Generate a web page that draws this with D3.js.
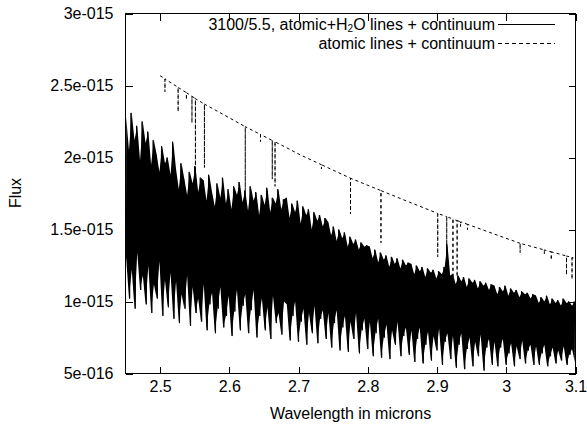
<!DOCTYPE html>
<html><head><meta charset="utf-8">
<script src="https://cdn.jsdelivr.net/npm/d3@7"></script>
<style>body{margin:0;background:#fff}svg{display:block}</style>
</head><body>
<svg id="chart" width="587" height="428"></svg>
<script>
// ---- data (flux in units of 1e-15) ----
const xTicks = [2.5, 2.6, 2.7, 2.8, 2.9, 3.0, 3.1];
const xTickLabels = ["2.5", "2.6", "2.7", "2.8", "2.9", "3", "3.1"];
const yTicks = [0.5, 1.0, 1.5, 2.0, 2.5, 3.0];
const yTickLabels = ["5e-016", "1e-015", "1.5e-015", "2e-015", "2.5e-015", "3e-015"];

// noisy model spectrum (atomic + H2O lines): alternating local maxima / minima on a 0.002 micron grid
const h2oStart = 2.45, h2oStep = 0.002;
const h2oPeaks = [
  2.28,2.05,2.31,2.12,2.22,1.98,2.25,2.10,
  2.18,1.95,2.12,2.02,1.90,2.08,1.96,2.00,1.88,2.11,
  1.92,1.78,1.96,1.85,1.74,1.90,1.82,1.94,1.76,1.86,
  1.84,1.70,1.88,1.76,1.66,1.82,1.72,1.86,1.68,1.78,1.64,1.80,1.74,1.83,1.69,
  1.77,1.63,1.80,1.70,1.76,1.60,1.74,1.67,1.79,1.62,1.72,1.68,1.78,1.64,1.71,
  1.72,1.58,1.68,1.62,1.70,1.54,1.66,1.60,1.64,1.50,1.62,1.56,1.60,1.52,1.58,
  1.55,1.46,1.52,1.42,1.50,1.44,1.48,1.38,1.45,1.40,1.43,1.36,1.41,1.38,1.39,
  1.38,1.30,1.36,1.27,1.34,1.29,1.32,1.24,1.31,1.26,1.30,1.23,1.29,1.25,1.27,
  1.26,1.19,1.25,1.21,1.24,1.17,1.23,1.20,1.22,1.16,1.21,1.19,1.24,1.40,1.18,
  1.19,1.12,1.18,1.14,1.17,1.10,1.16,1.13,1.15,1.09,1.14,1.11,1.13,1.08,1.12,
  1.11,1.05,1.10,1.07,1.11,1.04,1.09,1.06,1.08,1.03,1.07,1.05,1.06,1.02,1.05,
  1.04,0.99,1.03,1.00,1.04,0.98,1.02,0.99,1.01,0.97,1.02,0.99,1.00,0.97,1.00
];
const h2oTroughs = [
  1.30,1.02,1.22,0.95,1.34,1.08,1.18,0.98,
  1.25,0.92,1.12,1.02,1.28,0.90,1.15,0.96,1.20,0.88,
  1.14,0.85,1.05,0.95,1.18,0.83,1.10,0.92,1.02,0.86,
  1.12,0.80,0.98,1.06,0.78,0.95,1.10,0.82,0.90,1.04,0.76,0.93,1.08,0.80,0.97,
  1.05,0.78,0.94,1.08,0.75,0.90,1.02,0.80,0.96,0.74,1.04,0.85,0.92,0.77,1.00,
  0.98,0.73,0.90,1.00,0.72,0.86,0.95,0.70,0.92,0.78,0.97,0.71,0.88,0.94,0.74,
  0.92,0.68,0.85,0.94,0.66,0.82,0.90,0.65,0.86,0.74,0.92,0.64,0.80,0.88,0.67,
  0.86,0.62,0.78,0.88,0.61,0.75,0.84,0.60,0.80,0.70,0.86,0.62,0.76,0.82,0.63,
  0.80,0.58,0.74,0.82,0.57,0.70,0.79,0.59,0.76,0.66,0.81,0.56,0.72,0.78,0.60,
  0.76,0.54,0.70,0.78,0.53,0.67,0.75,0.55,0.72,0.62,0.77,0.52,0.68,0.74,0.56,
  0.72,0.55,0.68,0.74,0.56,0.64,0.71,0.55,0.69,0.60,0.73,0.57,0.66,0.70,0.56,
  0.69,0.56,0.64,0.70,0.55,0.62,0.68,0.57,0.66,0.59,0.69,0.56,0.63,0.67,0.58
];

// atomic lines + continuum: [wavelength, flux]
const atomicSpectrum = [
  [2.500,2.568],
  [2.507,2.546],[2.507,2.457],[2.507,2.546],
  [2.526,2.487],[2.526,2.318],[2.526,2.487],
  [2.538,2.450],[2.538,2.400],[2.538,2.450],
  [2.546,2.425],[2.546,2.240],[2.546,2.425],
  [2.551,2.409],[2.551,1.900],[2.551,2.409],
  [2.564,2.371],[2.564,1.930],[2.564,2.371],
  [2.590,2.302],
  [2.623,2.214],[2.623,1.728],[2.623,2.214],
  [2.645,2.160],[2.645,2.110],[2.645,2.160],
  [2.662,2.118],[2.662,1.850],[2.662,2.118],
  [2.666,2.109],[2.666,1.800],[2.666,2.109],
  [2.703,2.017],
  [2.733,1.950],[2.733,1.920],[2.733,1.950],
  [2.775,1.856],[2.775,1.608],[2.775,1.856],
  [2.819,1.770],[2.819,1.408],[2.819,1.770],
  [2.860,1.690],
  [2.901,1.612],[2.901,1.311],[2.901,1.612],
  [2.914,1.589],[2.914,1.370],[2.914,1.589],
  [2.923,1.572],[2.923,1.161],[2.923,1.572],
  [2.929,1.562],[2.929,1.172],[2.929,1.562],
  [2.934,1.553],[2.934,1.520],[2.934,1.553],
  [2.944,1.536],[2.944,1.500],[2.944,1.536],
  [2.980,1.473],
  [3.020,1.404],[3.020,1.339],[3.020,1.404],
  [3.055,1.358],[3.055,1.330],[3.055,1.358],
  [3.065,1.345],[3.065,1.288],[3.065,1.345],
  [3.087,1.316],[3.087,1.184],[3.087,1.316],
  [3.095,1.305],[3.095,1.154],[3.095,1.305],
  [3.100,1.297]
];

const legendLabels = ["3100/5.5, atomic+H\u2082O lines + continuum", "atomic lines + continuum"];

// ---- drawing ----
const FONT = "'Liberation Sans', Arial, Helvetica, sans-serif";
const svg = d3.select("#chart");
const L = 125.5, R = 575.5, T = 13.5, B = 373.5;
const x = d3.scaleLinear().domain([2.45, 3.1]).range([L, R]);
const y = d3.scaleLinear().domain([0.5, 3.0]).range([B, T]);

svg.append("defs").append("clipPath").attr("id", "clip")
  .append("rect").attr("x", L).attr("y", T).attr("width", R - L).attr("height", B - T);

// H2O spectrum points (zig-zag through maxima and minima)
const h2oData = [];
for (let k = 0; k < h2oPeaks.length; k++) {
  h2oData.push([h2oStart + (2 * k) * h2oStep, h2oPeaks[k]]);
  h2oData.push([h2oStart + (2 * k + 1) * h2oStep, h2oTroughs[k]]);
}
// band covered by the dense spectrum between each maximum and its following minimum
const h2oBand = h2oPeaks.map((p, k) => ({ w: h2oStart + (2 * k + 0.5) * h2oStep, hi: p, lo: h2oTroughs[k] }));

const line = d3.line().x(d => x(d[0])).y(d => y(d[1]));
const area = d3.area().x(d => x(d.w)).y0(d => y(d.lo)).y1(d => y(d.hi));

const plot = svg.append("g").attr("clip-path", "url(#clip)");
plot.append("path").datum(h2oBand).attr("d", area).attr("fill", "#000");
plot.append("path").datum(h2oData).attr("d", line)
  .attr("fill", "none").attr("stroke", "#000").attr("stroke-width", 1)
  .attr("stroke-linejoin", "bevel");
plot.append("path").datum(atomicSpectrum).attr("d", line)
  .attr("fill", "none").attr("stroke", "#000").attr("stroke-width", 1)
  .attr("stroke-dasharray", "3,3");

// axes (ticks inward, mirrored)
function styleAxis(g) {
  g.select(".domain").remove();
  g.selectAll(".tick line").attr("stroke", "#000").attr("shape-rendering", "crispEdges");
  g.selectAll("text").attr("fill", "#000").style("font-family", FONT).style("font-size", "16px");
}
svg.append("g").attr("transform", `translate(0,${B})`)
  .call(d3.axisBottom(x).tickValues(xTicks).tickFormat((d, i) => xTickLabels[i]).tickSizeInner(-7).tickSizeOuter(0).tickPadding(7))
  .call(styleAxis);
svg.append("g").attr("transform", `translate(0,${T})`)
  .call(d3.axisTop(x).tickValues(xTicks).tickFormat("").tickSizeInner(-7).tickSizeOuter(0))
  .call(styleAxis);
svg.append("g").attr("transform", `translate(${L},0)`)
  .call(d3.axisLeft(y).tickValues(yTicks).tickFormat((d, i) => yTickLabels[i]).tickSizeInner(-7).tickSizeOuter(0).tickPadding(12))
  .call(styleAxis);
svg.append("g").attr("transform", `translate(${R},0)`)
  .call(d3.axisRight(y).tickValues(yTicks).tickFormat("").tickSizeInner(-7).tickSizeOuter(0))
  .call(styleAxis);

svg.append("rect").attr("x", L).attr("y", T).attr("width", R - L).attr("height", B - T)
  .attr("fill", "none").attr("stroke", "#000").attr("shape-rendering", "crispEdges");

// axis titles
svg.append("text").attr("x", (L + R) / 2).attr("y", 419).attr("text-anchor", "middle")
  .style("font-family", FONT).style("font-size", "16px").text("Wavelength in microns");
svg.append("text").attr("transform", "translate(21,193) rotate(-90)").attr("text-anchor", "middle")
  .style("font-family", FONT).style("font-size", "16px").text("Flux");

// legend
const lg = svg.append("g");
const t1 = lg.append("text").attr("x", 495).attr("y", 30).attr("text-anchor", "end")
  .style("font-family", FONT).style("font-size", "16px");
t1.append("tspan").text("3100/5.5, atomic+H");
t1.append("tspan").attr("dy", 2).style("font-size", "10px").text("2");
t1.append("tspan").attr("dy", -2).text("O lines + continuum");
lg.append("text").attr("x", 495).attr("y", 48.8).attr("text-anchor", "end")
  .style("font-family", FONT).style("font-size", "16px").text(legendLabels[1]);
lg.append("line").attr("x1", 498).attr("x2", 555).attr("y1", 24.5).attr("y2", 24.5)
  .attr("stroke", "#000").attr("shape-rendering", "crispEdges");
lg.append("line").attr("x1", 498).attr("x2", 555).attr("y1", 43.5).attr("y2", 43.5)
  .attr("stroke", "#000").attr("stroke-dasharray", "4,3").attr("shape-rendering", "crispEdges");
</script>
</body></html>
